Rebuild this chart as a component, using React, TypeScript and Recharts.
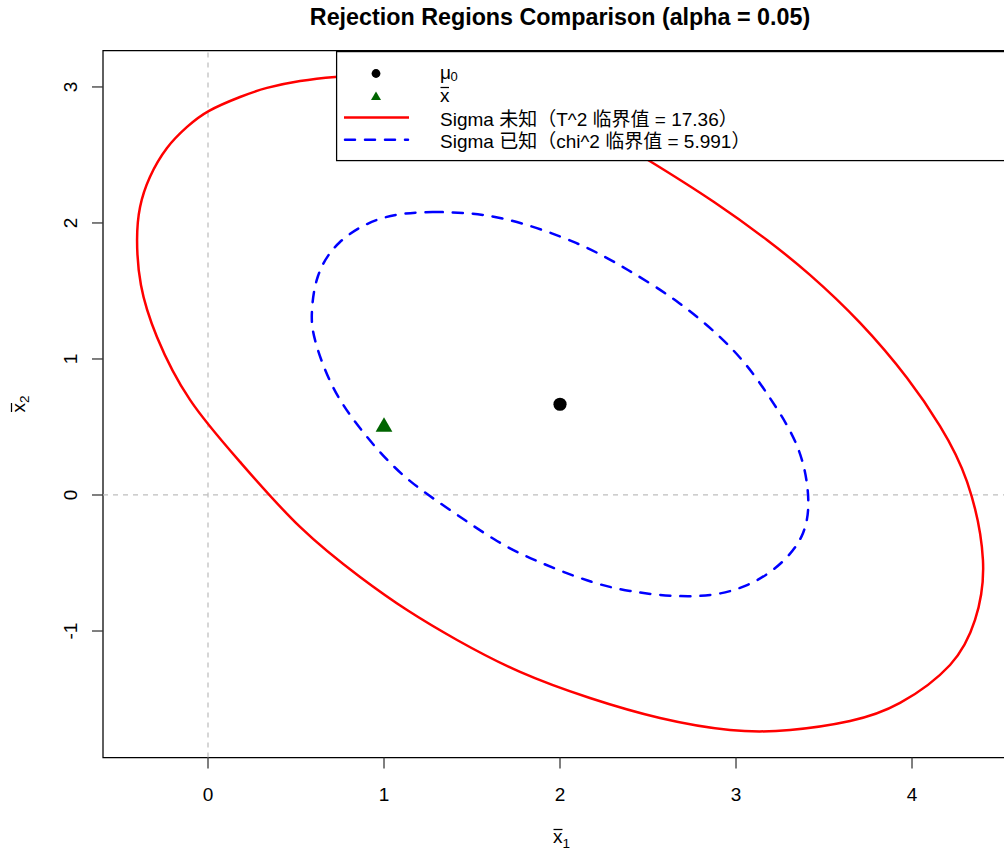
import React from 'react';
import {
  ScatterChart,
  Scatter,
  XAxis,
  YAxis,
  ReferenceLine,
  ReferenceArea,
  Legend,
  Customized,
} from 'recharts';

// ---------- data ----------
const xTicks = [0, 1, 2, 3, 4];
const yTicks = [-1, 0, 1, 2, 3];
const xDomain = [-0.5966, 4.588];
const yDomain = [-1.93, 3.268];

// Sigma unknown (T^2 critical value = 17.36) boundary
const redX = [0.892, 1.489, 2.057, 2.5, 2.875, 3.176, 3.42, 3.705, 3.972, 4.159, 4.313, 4.403, 4.358, 4.216, 3.932, 3.648, 3.307, 2.966, 2.568, 2.17, 1.773, 1.415, 1.131, 0.864, 0.523, 0.182, -0.102, -0.29, -0.381, -0.403, -0.386, -0.33, -0.233, -0.119, 0.006, 0.182, 0.335, 0.523, 0.722, 0.892];
const redY = [3.088, 3.0, 2.772, 2.463, 2.154, 1.875, 1.618, 1.265, 0.86, 0.507, 0.096, -0.478, -0.919, -1.25, -1.529, -1.662, -1.728, -1.728, -1.64, -1.493, -1.301, -1.066, -0.846, -0.603, -0.235, 0.243, 0.699, 1.162, 1.544, 1.875, 2.118, 2.338, 2.551, 2.706, 2.824, 2.926, 2.993, 3.044, 3.074, 3.088];

// Sigma known (chi^2 critical value = 5.991) boundary
const blueX = [1.278, 1.659, 2.091, 2.386, 2.676, 2.983, 3.193, 3.347, 3.409, 3.381, 3.256, 3.063, 2.778, 2.398, 2.114, 1.869, 1.642, 1.375, 1.108, 0.881, 0.71, 0.608, 0.591, 0.625, 0.75, 0.994, 1.278];
const blueY = [2.081, 2.037, 1.853, 1.654, 1.412, 1.066, 0.713, 0.36, 0.007, -0.279, -0.5, -0.662, -0.743, -0.706, -0.61, -0.485, -0.338, -0.11, 0.147, 0.463, 0.794, 1.14, 1.36, 1.61, 1.86, 2.037, 2.081];

const muX = [2];
const muY = [0.667];
const xbarX = [1];
const xbarY = [0.5];

const titleText = 'Rejection Regions Comparison (alpha = 0.05)';
const legendRed = 'Sigma 未知（T^2 临界值 = 17.36）';
const legendBlue = 'Sigma 已知（chi^2 临界值 = 5.991）';

// ---------- helpers ----------
const toPts = (xs: number[], ys: number[]) => xs.map((x, i) => ({ x, y: ys[i] }));
const redData = toPts(redX, redY);
const blueData = toPts(blueX, blueY);
const muData = toPts(muX, muY);
const xbarData = toPts(xbarX, xbarY);

const FONT = '"Liberation Sans", Arial, "Noto Sans CJK SC", sans-serif';
const RED = '#ff0000';
const BLUE = '#0000ff';
const GREEN = '#006400';

const noShape = () => <g />;

const CircleShape = (p: any) => <circle cx={p.cx} cy={p.cy} r={6.6} fill="#000" />;
const TriangleShape = (p: any) => (
  <polygon
    points={`${p.cx},${p.cy - 9.7} ${p.cx + 8.4},${p.cy + 4.8} ${p.cx - 8.4},${p.cy + 4.8}`}
    fill={GREEN}
  />
);

const XTick = (p: any) => (
  <text x={p.x} y={p.y + 32} textAnchor="middle" fontSize={19} fontFamily={FONT} fill="#000">
    {p.payload.value}
  </text>
);

const YTick = (p: any) => (
  <text
    transform={`translate(${p.x - 15}, ${p.y}) rotate(-90)`}
    textAnchor="middle"
    fontSize={19}
    fontFamily={FONT}
    fill="#000"
  >
    {p.payload.value}
  </text>
);

const Titles = () => (
  <g fontFamily={FONT} fill="#000">
    <text x={560} y={25} textAnchor="middle" fontSize={23.3} fontWeight="bold">
      {titleText}
    </text>
    {/* x axis title: x-bar with subscript 1 */}
    <text x={553} y={843} fontSize={19}>x</text>
    <line x1={553.5} x2={562.5} y1={829.5} y2={829.5} stroke="#000" strokeWidth={1.25} />
    <text x={562.5} y={847.5} fontSize={13.5}>1</text>
    {/* y axis title: x-bar with subscript 2 */}
    <g transform="translate(20, 404) rotate(-90)">
      <text x={-8.5} y={5} fontSize={19}>x</text>
      <line x1={-8} x2={1} y1={-8.5} y2={-8.5} stroke="#000" strokeWidth={1.25} />
      <text x={1} y={8.8} fontSize={13.5}>2</text>
    </g>
  </g>
);

const LegendBox = () => (
  <svg width={700} height={112} style={{ display: 'block', overflow: 'visible' }}>
    <rect x={0.6} y={0.6} width={720} height={109} fill="#fff" stroke="#000" strokeWidth={1.25} />
    <circle cx={40} cy={22.5} r={4.4} fill="#000" />
    <polygon points="40,40.5 45,49 35,49" fill={GREEN} />
    <line x1={8} x2={73} y1={66.5} y2={66.5} stroke={RED} strokeWidth={2.5} />
    <line
      x1={9}
      x2={72}
      y1={88.8}
      y2={88.8}
      stroke={BLUE}
      strokeWidth={2.5}
      strokeDasharray="10 10"
      strokeLinecap="round"
    />
    <g fontFamily={FONT} fill="#000" fontSize={19}>
      <text x={104} y={27.5}>μ</text>
      <text x={114.5} y={30} fontSize={13}>0</text>
      <text x={104} y={51.2}>x</text>
      <line x1={104.5} x2={113} y1={36.5} y2={36.5} stroke="#000" strokeWidth={1.25} />
      <text x={104} y={74.5}>{legendRed}</text>
      <text x={104} y={96.5}>{legendBlue}</text>
    </g>
  </svg>
);

export default function App() {
  return (
    <div
      style={{
        position: 'absolute',
        left: 0,
        top: 0,
        width: 1004,
        height: 852,
        overflow: 'hidden',
        background: '#fff',
      }}
    >
      <ScatterChart width={1020} height={852} margin={{ top: 50.5, right: 4.5, bottom: 0, left: 0 }}>
        <XAxis
          type="number"
          dataKey="x"
          domain={xDomain}
          ticks={xTicks}
          allowDataOverflow
          interval={0}
          axisLine={false}
          tickLine={{ stroke: '#333', strokeWidth: 1.25 }}
          tickSize={11}
          tickMargin={0}
          height={94.5}
          tick={XTick}
        />
        <YAxis
          type="number"
          dataKey="y"
          domain={yDomain}
          ticks={yTicks}
          allowDataOverflow
          interval={0}
          axisLine={false}
          tickLine={{ stroke: '#333', strokeWidth: 1.25 }}
          tickSize={11}
          tickMargin={0}
          width={103}
          tick={YTick}
        />
        <ReferenceArea
          x1={xDomain[0]}
          x2={xDomain[1]}
          y1={yDomain[0]}
          y2={yDomain[1]}
          fill="none"
          fillOpacity={0}
          stroke="#000"
          strokeWidth={1.25}
          ifOverflow="visible"
        />
        <ReferenceLine x={0} stroke="#bebebe" strokeWidth={1.25} strokeDasharray="5 5" />
        <ReferenceLine y={0} stroke="#bebebe" strokeWidth={1.25} strokeDasharray="5 5" />
        <Scatter
          data={redData}
          fill={RED}
          isAnimationActive={false}
          shape={noShape}
          line={{ stroke: RED, strokeWidth: 2.5, fill: 'none' }}
          lineJointType="natural"
        />
        <Scatter
          data={blueData}
          fill={BLUE}
          isAnimationActive={false}
          shape={noShape}
          line={{
            stroke: BLUE,
            strokeWidth: 2.5,
            fill: 'none',
            strokeDasharray: '10 10',
            strokeLinecap: 'round',
          }}
          lineJointType="natural"
        />
        <Scatter data={muData} fill="#000" isAnimationActive={false} shape={CircleShape} />
        <Scatter data={xbarData} fill={GREEN} isAnimationActive={false} shape={TriangleShape} />
        <Customized component={Titles} />
        <Legend
          layout="horizontal"
          verticalAlign="middle"
          align="center"
          wrapperStyle={{ left: 336, top: 50.5, width: 700, height: 112 }}
          content={LegendBox}
        />
      </ScatterChart>
    </div>
  );
}
